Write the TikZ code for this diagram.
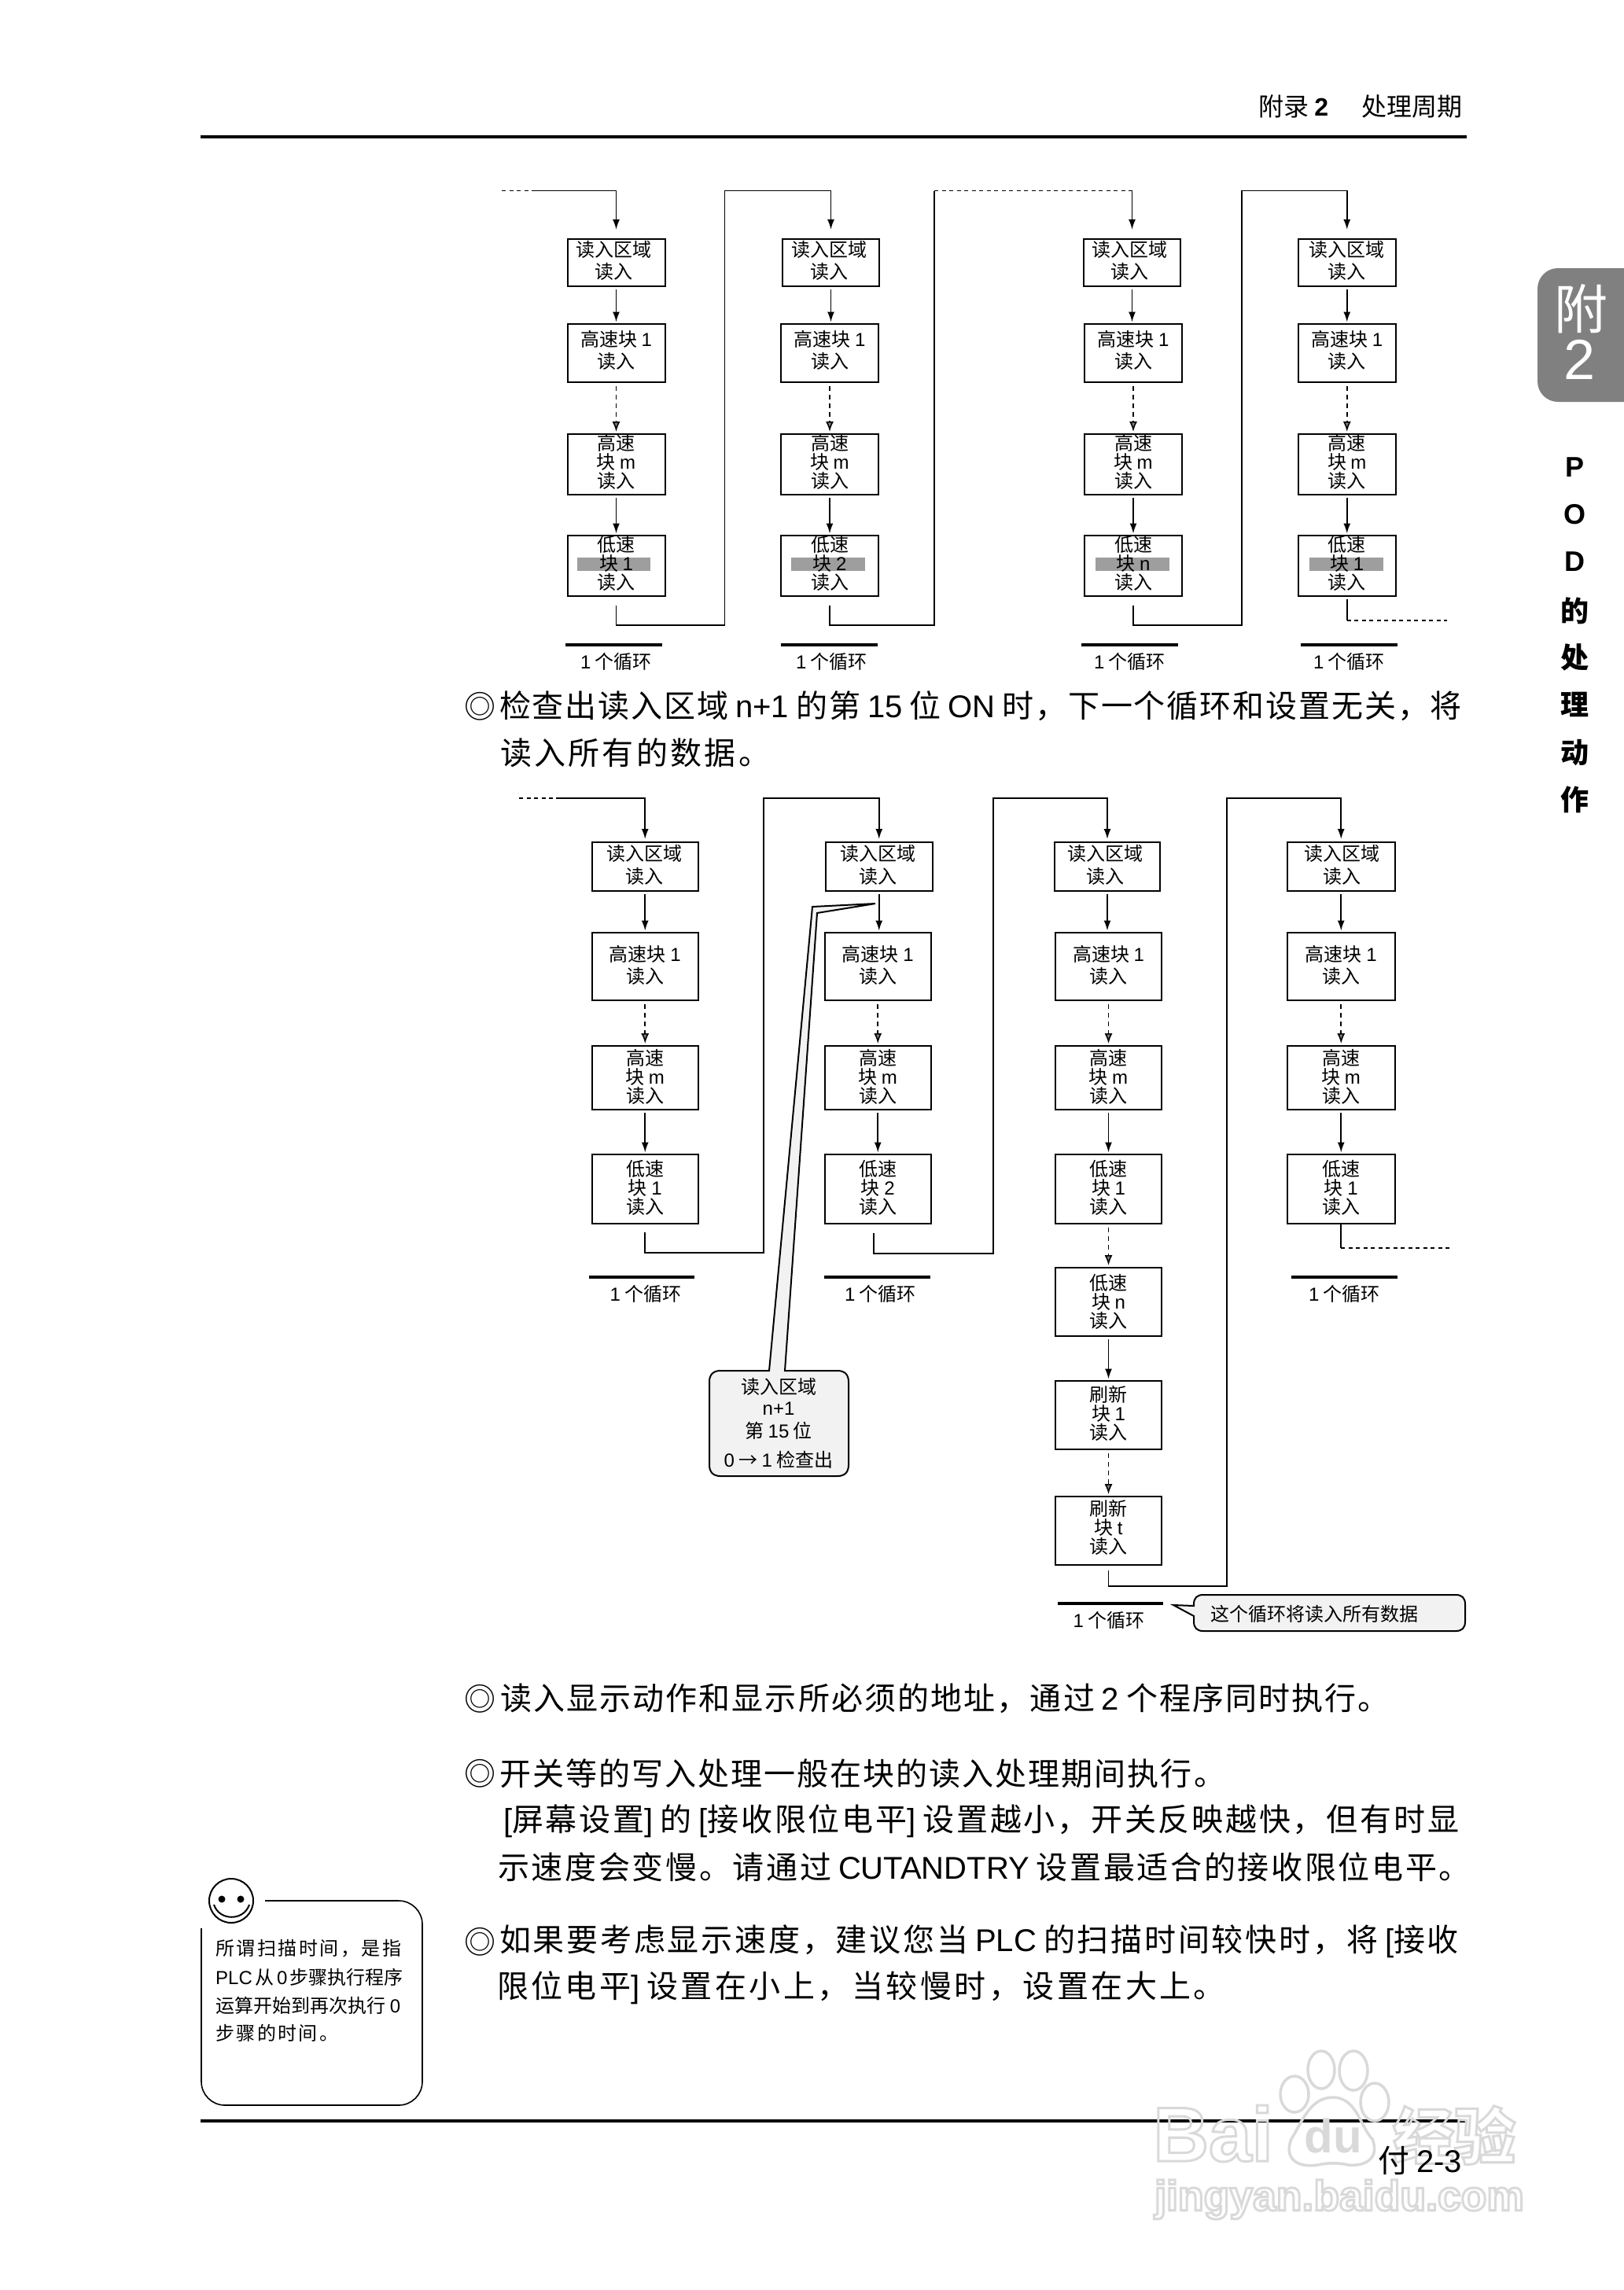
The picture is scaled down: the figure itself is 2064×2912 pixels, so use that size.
\documentclass[tikz,border=0pt]{standalone}
\usepackage{fontspec}
\usetikzlibrary{arrows.meta,calc}
\setmainfont{Noto Sans CJK SC}
\newfontfamily\latfont{Liberation Sans}
\newcommand\lat[1]{{\latfont #1}}
\newXeTeXintercharclass\cjkcls
\newcount\cjkcc
\cjkcc="4E00 \loop \XeTeXcharclass\cjkcc=\cjkcls \ifnum\cjkcc<"9FFF \advance\cjkcc 1 \repeat
\cjkcc="3000 \loop \XeTeXcharclass\cjkcc=\cjkcls \ifnum\cjkcc<"303F \advance\cjkcc 1 \repeat
\cjkcc="FF00 \loop \XeTeXcharclass\cjkcc=\cjkcls \ifnum\cjkcc<"FFEF \advance\cjkcc 1 \repeat
\XeTeXinterchartoks\cjkcls\cjkcls={\hskip 0pt plus 1fil\relax}
% #1 raise, #2 horizontal shift, #3 lines
\newcommand\stk[3]{\hspace*{#2pt}\raisebox{#1pt}[0pt][0pt]{\parbox{106pt}{\lineskiplimit=-100pt\centering #3\par}}}
\tikzset{
  x=1pt,y=-1pt,
  blkbox/.style={draw=black,line width=2pt,inner sep=0pt,outer sep=0pt},
  two/.style={blkbox,font=\fontsize{24}{28.5}\selectfont},
  three/.style={blkbox,font=\fontsize{24}{24}\selectfont},
  arr/.style={line width=1.8pt,-{Latex[length=13pt,width=9pt]},shorten <=4pt,shorten >=2.5pt},
  darr/.style={line width=1.6pt,dash pattern=on 6pt off 5pt,-{Latex[length=13pt,width=10pt,fill=gray]},shorten <=5pt,shorten >=3pt},
  wire/.style={line width=1.8pt},
  wiredash/.style={line width=1.8pt,dash pattern=on 5pt off 4.5pt},
  cyclebar/.style={line width=3.5pt},
  cyclelabel/.style={inner sep=0pt,font=\fontsize{24}{28}\selectfont},
  bodytext/.style={inner sep=0pt,outer sep=0pt,anchor=west,font=\fontsize{40}{44}\selectfont},
  mark40/.style={inner sep=0pt,anchor=center,font=\fontsize{40}{44}\selectfont},
  calloutshape/.style={draw=black,line width=2pt,fill=black!5},
  notetext/.style={inner sep=0pt,anchor=west,font=\fontsize{24}{30}\selectfont},
  sidechar/.style={inner sep=0pt,font=\bfseries\fontsize{36}{40}\selectfont},
  wmline/.style={draw=black!15,line width=3.5pt},
  wmtext/.style={inner sep=0pt,text=black!15},
}
\newcommand\blk[7]{\node[#2,minimum width={(#5-#3)*1pt},minimum height={(#6-#4)*1pt}] (#1) at ({(#3+#5)/2},{(#4+#6)/2}) {#7};}
\newcommand\jl[5]{\node[bodytext] (#1) at (#2,#3) {\hbox to #4pt{\XeTeXinterchartokenstate=1 #5}};}
\newcommand\nl[5]{\node[notetext] (#1) at (#2,#3) {\hbox to #4pt{\XeTeXinterchartokenstate=1 #5}};}
\newcommand\flowcol[1]{
  \draw[arr] (#1a.south) -- (#1a.south |- #1b.north);
  \draw[darr] (#1b.south) -- (#1b.south |- #1c.north);
  \draw[arr] (#1c.south) -- (#1c.south |- #1d.north);
}
% name, read x1, read x2, x1, x2, block label, shift of read text
\newcommand\topcol[7]{
  \blk{#1a}{two}{#2}{304}{#3}{364}{\stk{-3.5}{#7}{读入区域\\读入}}
  \blk{#1b}{two}{#4}{412}{#5}{486}{\stk{-2.7}{0}{高速块 \lat{1}\\读入}}
  \blk{#1c}{three}{#4}{552}{#5}{629}{\stk{-3.5}{0}{高速\\块 \lat{m}\\读入}}
  \blk{#1d}{three}{#4}{681}{#5}{758}{\stk{-2.7}{0}{低速\\块 \lat{#6}\\读入}}
  \flowcol{#1}
}
\newcommand\botcol[7]{
  \blk{#1a}{two}{#2}{1070.5}{#3}{1133}{\stk{-4.2}{#7}{读入区域\\读入}}
  \blk{#1b}{two}{#4}{1186}{#5}{1272}{\stk{-4.5}{0}{高速块 \lat{1}\\读入}}
  \blk{#1c}{three}{#4}{1330}{#5}{1411}{\stk{-5.2}{0}{高速\\块 \lat{m}\\读入}}
  \blk{#1d}{three}{#4}{1468}{#5}{1556}{\stk{-4.7}{0}{低速\\块 \lat{#6}\\读入}}
  \flowcol{#1}
}
\newcommand\cyc[5]{
  \draw[cyclebar] (#2,#4) -- (#3,#4);
  \node[cyclelabel] (#1) at ({(#2+#3)/2+#5},{#4+21}) {\lat{1} 个循环};
}
\begin{document}
\begin{tikzpicture}
\useasboundingbox (0,0) rectangle (2064,2912);
\fill[white] (0,0) rectangle (2064,2912);

% header
\draw[line width=4pt] (255,174) -- (1865,174);
\node[inner sep=0pt,anchor=west,font=\fontsize{32}{34}\selectfont] (hdA) at (1600,135) {附录 \lat{\bfseries 2}};
\node[inner sep=0pt,anchor=east,font=\fontsize{32}{34}\selectfont] (hdB) at (1860,135) {处理周期};

% side tab
\fill[fill=black!50,rounded corners=26pt] (2090,341) -- (1955,341) -- (1955,511) -- (2090,511) -- cycle;
\node[inner sep=0pt,text=white,font=\fontsize{68}{70}\selectfont] (tabA) at (2010,393) {附};
\node[inner sep=0pt,text=white,font=\fontsize{72}{74}\selectfont] (tabB) at (2008,457) {\lat{2}};
\node[sidechar] (sP) at (2002,594) {\lat{P}};
\node[sidechar] (sO) at (2002,654) {\lat{O}};
\node[sidechar] (sD) at (2002,714) {\lat{D}};
\node[sidechar] (s4) at (2002,777) {的};
\node[sidechar] (s5) at (2002,836) {处};
\node[sidechar] (s6) at (2002,896) {理};
\node[sidechar] (s7) at (2002,957) {动};
\node[sidechar] (s8) at (2002,1017) {作};

% top diagram: gray highlights
\fill[black!38] (734,709) rectangle (827,725.5);
\fill[black!38] (1006,709) rectangle (1100,725.5);
\fill[black!38] (1393,709) rectangle (1487,725.5);
\fill[black!38] (1665,709) rectangle (1759,725.5);

\topcol{p}{721.5}{845.5}{721.5}{845.5}{1}{-6}
\topcol{q}{995}{1118}{993}{1117}{2}{-4}
\topcol{r}{1378}{1501}{1379}{1503}{n}{-6}
\topcol{s}{1650.5}{1775}{1650.5}{1775}{1}{0}

\coordinate (tt) at (0,242.5);
\coordinate (ps0) at (638,242.5);
\coordinate (ps1) at (680,242.5);
\coordinate (pk) at (921.5,795);
\coordinate (qk) at (1188,795);
\coordinate (rk) at (1579,795);
\coordinate (send) at (1840,789);
\draw[wiredash] (ps0) -- (ps1);
\draw[arr,shorten <=0pt,shorten >=12pt] (ps1) -- (pa.north |- tt) -- (pa.north);
\draw[arr,shorten <=12pt,shorten >=12pt] (pd.south) |- (pk) |- (qa.north |- tt) -- (qa.north);
\draw[wire,shorten <=12pt] (qd.south) |- (qk) -- (qk |- tt);
\draw[wiredash] (qk |- tt) -- (ra.north |- tt);
\draw[arr,shorten <=0pt,shorten >=12pt] (ra.north |- tt) -- (ra.north);
\draw[arr,shorten <=12pt,shorten >=12pt] (rd.south) |- (rk) |- (sa.north |- tt) -- (sa.north);
\draw[wire,shorten <=4pt] (sd.south) -- (sd.south |- send);
\draw[wiredash] (sd.south |- send) -- (send);

\cyc{pcy}{719}{842}{820}{3}
\cyc{qcy}{993}{1116}{820}{3}
\cyc{rcy}{1375}{1498}{820}{0}
\cyc{scy}{1654}{1777}{820}{0}

% paragraph 1
\node[mark40] (m1) at (610,898) {◎};
\jl{t1}{635}{898}{1224}{检查出读入区域 \lat{n+1} 的第 \lat{15} 位 \lat{ON} 时，下一个循环和设置无关，将}
\jl{t2}{636}{957}{343}{读入所有的数据。}

% bottom diagram
\botcol{u}{752.5}{888}{752.5}{888}{1}{-2}
\botcol{v}{1050}{1185.5}{1048.5}{1184}{2}{-2}
\botcol{w}{1341}{1475}{1342}{1477}{1}{-5}
\botcol{x}{1637}{1773.5}{1637}{1773.5}{1}{2}
\blk{we}{three}{1342}{1612}{1477}{1699}{\stk{-6.2}{0}{低速\\块 \lat{n}\\读入}}
\blk{wf}{three}{1342}{1756}{1477}{1843}{\stk{-4.5}{0}{刷新\\块 \lat{1}\\读入}}
\blk{wg}{three}{1342}{1903}{1477}{1990}{\stk{-2.2}{0}{刷新\\块 \lat{t}\\读入}}
\draw[darr] (wd.south) -- (wd.south |- we.north);
\draw[arr] (we.south) -- (we.south |- wf.north);
\draw[darr] (wf.south) -- (wf.south |- wg.north);

\coordinate (bt) at (0,1015);
\coordinate (us0) at (660,1015);
\coordinate (us1) at (707,1015);
\coordinate (uk) at (971,1593);
\coordinate (vk) at (1263,1594);
\coordinate (wk) at (1560,2017);
\coordinate (xend) at (1845,1587);
\draw[wiredash] (us0) -- (us1);
\draw[arr,shorten <=0pt,shorten >=3.5pt] (us1) -- (ua.north |- bt) -- (ua.north);
\draw[arr,shorten <=11pt,shorten >=3.5pt] (ud.south) |- (uk) |- (va.north |- bt) -- (va.north);
\draw[arr,shorten <=12pt,shorten >=3.5pt] ([xshift=-5pt]vd.south) |- (vk) |- (wa.north |- bt) -- (wa.north);
\draw[arr,shorten <=7pt,shorten >=3.5pt] (wg.south) |- (wk) |- (xa.north |- bt) -- (xa.north);
\draw[wire] (xd.south) -- (xd.south |- xend);
\draw[wiredash] (xd.south |- xend) -- (xend);

\cyc{ucy}{749}{883}{1624}{5}
\cyc{vcy}{1048}{1183}{1624}{4}
\cyc{wcy}{1345}{1479}{2039}{-2}
\cyc{xcy}{1642}{1777}{1624}{0}

% callouts
\draw[calloutshape] (1113,1149) -- (1033,1153) -- (978,1743) -- (916,1743)
  .. controls (907,1743) and (902,1748) .. (902,1757) -- (902,1863)
  .. controls (902,1872) and (907,1877) .. (916,1877) -- (1065,1877)
  .. controls (1074,1877) and (1079,1872) .. (1079,1863) -- (1079,1757)
  .. controls (1079,1748) and (1074,1743) .. (1065,1743) -- (998,1743)
  -- (1039,1161) -- cycle;
\node[inner sep=0pt,align=center,font=\fontsize{24}{28}\selectfont] (cA) at (990,1763) {读入区域};
\node[inner sep=0pt,align=center,font=\fontsize{24}{28}\selectfont] (cB) at (990,1791) {\lat{n+1}};
\node[inner sep=0pt,align=center,font=\fontsize{24}{28}\selectfont] (cC) at (990,1819) {第 \lat{15} 位};
\node[inner sep=0pt,align=center,font=\fontsize{24}{28}\selectfont] (cD) at (990,1856) {\lat{0} → \lat{1} 检查出};

\draw[calloutshape] (1518,2042) -- (1492,2041) -- (1518,2055) -- (1518,2062)
  .. controls (1518,2070) and (1522,2074) .. (1530,2074) -- (1851,2074)
  .. controls (1859,2074) and (1863,2070) .. (1863,2062) -- (1863,2040)
  .. controls (1863,2032) and (1859,2028) .. (1851,2028) -- (1530,2028)
  .. controls (1522,2028) and (1518,2032) .. (1518,2040) -- cycle;
\node[inner sep=0pt,font=\fontsize{24}{26}\selectfont] (cE) at (1671,2052) {这个循环将读入所有数据};

% paragraphs
\node[mark40] (m2) at (610,2160) {◎};
\jl{t3}{636}{2160}{1131}{读入显示动作和显示所必须的地址，通过 \lat{2} 个程序同时执行。}
\node[mark40] (m3) at (610,2255) {◎};
\jl{t4}{635}{2255}{923}{开关等的写入处理一般在块的读入处理期间执行。}
\jl{t5}{640}{2316}{1215}{\lat{[}屏幕设置\lat{]} 的 \lat{[}接收限位电平\lat{]} 设置越小，开关反映越快，但有时显}
\jl{t6}{633}{2374}{1237}{示速度会变慢。请通过 \lat{CUTANDTRY} 设置最适合的接收限位电平。}
\node[mark40] (m4) at (610,2469) {◎};
\jl{t7}{635}{2469}{1220}{如果要考虑显示速度，建议您当 \lat{PLC} 的扫描时间较快时，将 \lat{[}接收}
\jl{t8}{632}{2528}{926}{限位电平\lat{]} 设置在小上，当较慢时，设置在大上。}

% note box
\draw[line width=1.6pt,rounded corners=30pt] (337,2417) -- (537,2417) -- (537,2677) -- (256,2677) -- (256,2452);
\draw[line width=2pt] (294,2417) circle[radius=28];
\fill (282,2415) circle[radius=4.5];
\fill (306,2415) circle[radius=4.5];
\draw[line width=2pt] (272,2422) .. controls (279,2443) and (310,2443) .. (317,2422);
\nl{n1}{274}{2478}{236}{所谓扫描时间，是指}
\nl{n2}{274}{2514}{235}{\lat{PLC} 从 \lat{0} 步骤执行程序}
\nl{n3}{274}{2550}{235}{运算开始到再次执行 \lat{0}}
\nl{n4}{274}{2585}{156}{步骤的时间。}

% footer
\draw[line width=4pt] (255,2697) -- (1864,2697);

% watermark
\draw[wmline] (1646,2663) ellipse[x radius=18,y radius=23];
\draw[wmline] (1680,2632) ellipse[x radius=17,y radius=24];
\draw[wmline] (1721,2633) ellipse[x radius=18,y radius=25];
\draw[wmline] (1748,2673) ellipse[x radius=18,y radius=24];
\draw[wmline] (1695,2667) .. controls (1725,2667) and (1730,2705) .. (1745,2720) .. controls (1755,2745) and (1735,2755) .. (1715,2753) .. controls (1700,2750) and (1690,2750) .. (1675,2753) .. controls (1650,2757) and (1632,2745) .. (1642,2720) .. controls (1655,2700) and (1665,2667) .. (1695,2667) -- cycle;
\node[wmtext,anchor=west,font=\bfseries\fontsize{98}{100}\selectfont] (wm1) at (1466,2713) {\lat{\special{pdf:code 1 Tr 3 w 0.85 G}Bai\special{pdf:code 0 Tr}}};
\node[wmtext,anchor=center,font=\bfseries\fontsize{60}{62}\selectfont] (wm2) at (1695,2716) {\lat{du}};
\node[wmtext,anchor=west,font=\bfseries\fontsize{78}{80}\selectfont] (wm3) at (1771,2715) {\special{pdf:code 1 Tr 3 w 0.85 G}经验\special{pdf:code 0 Tr}};
\node[wmtext,anchor=west,font=\bfseries\fontsize{53.5}{56}\selectfont] (wm4) at (1468,2797) {\lat{\special{pdf:code 1 Tr 3 w 0.85 G}jingyan.baidu.com\special{pdf:code 0 Tr}}};

% page number, over the watermark
\node[inner sep=0pt,anchor=east,text=black,font=\fontsize{40}{44}\selectfont] (pg) at (1859,2747) {付 \lat{2-3}};
\end{tikzpicture}
\end{document}
